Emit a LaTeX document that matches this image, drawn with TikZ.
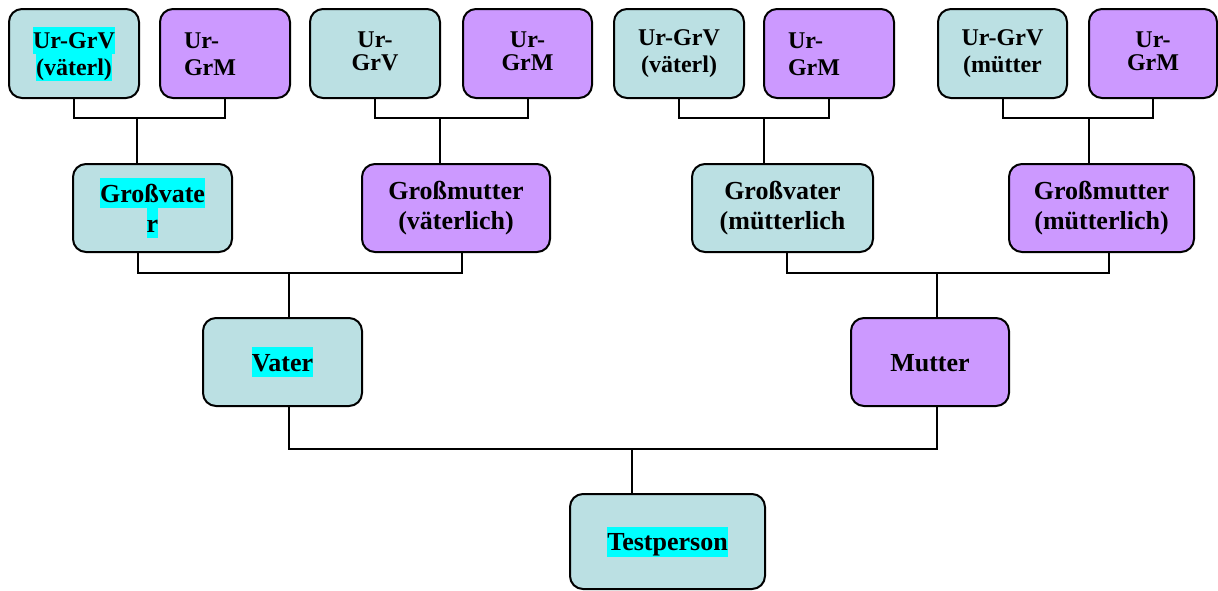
\documentclass[tikz,border=0pt]{standalone}
\usepackage{fontspec}
\setmainfont{Liberation Serif}
\usepackage{tikz}
\usetikzlibrary{positioning}
\usetikzlibrary{calc}
\definecolor{male-fill}{HTML}{BBE0E3}
\definecolor{female-fill}{HTML}{CC99FF}
\definecolor{mark-cyan}{HTML}{00FFFF}
\newcommand{\personstrut}{\rule[-0.2\baselineskip]{0pt}{\baselineskip}}
\newcommand{\marked}[1]{{\setlength{\fboxsep}{0pt}\colorbox{mark-cyan}{\personstrut#1}}}
\tikzset{
  person/.style={draw=black, line width=2pt, rounded corners=13pt, anchor=north west,
    inner sep=0pt, align=center, minimum height=88pt,
    font=\bfseries\fontsize{26}{30}\selectfont,
    execute at begin node=\personstrut, execute at end node=\personstrut},
  male/.style={person, fill=male-fill},
  female/.style={person, fill=female-fill},
  elder/.style={minimum width=130pt, minimum height=89pt, font=\bfseries\fontsize{24}{27}\selectfont},
  tight/.style={font=\bfseries\fontsize{24}{23.5}\selectfont},
  leftname/.style={align=left, text width=82pt, inner xsep=24pt},
  link/.style={line width=2pt},
}
\begin{document}
\begin{tikzpicture}[x=1pt, y=-1pt]
\useasboundingbox (0,0) rectangle (1218,590);
% great-grandparents
\node[male, elder] (urv1) at (8,8) {\marked{Ur-GrV}\\\marked{(väterl)}};
\node[female, elder, leftname] (urm1) at (159,8) {Ur-\\GrM};
\node[male, elder, tight] (urv2) at (309,8) {Ur-\\GrV};
\node[female, elder, tight, minimum width=129pt] (urm2) at (462,8) {Ur-\\GrM};
\node[male, elder] (urv3) at (613,8) {Ur-GrV\\(väterl)};
\node[female, elder, leftname] (urm3) at (763,8) {Ur-\\GrM};
\node[male, elder, minimum width=129pt] (urv4) at (937,8) {Ur-GrV\\(mütter};
\node[female, elder, tight, minimum width=128pt] (urm4) at (1088,8) {Ur-\\GrM};
% grandparents
\node[male, minimum width=159pt] (grv1) at (72,163) {\marked{Großvate}\\\marked{r}};
\node[female, minimum width=188pt] (grm1) at (361,163) {Großmutter\\(väterlich)};
\node[male, minimum width=181pt] (grv2) at (691,163) {Großvater\\(mütterlich};
\node[female, minimum width=185pt] (grm2) at (1008,163) {Großmutter\\(mütterlich)};
% parents
\node[male, minimum width=159pt] (vater) at (202,317) {\marked{Vater}};
\node[female, minimum width=158pt] (mutter) at (850,317) {Mutter};
\node[male, minimum width=195pt, minimum height=95pt] (testperson) at (569,493) {\marked{Testperson}};
% junctions
\coordinate (j1) at (137,118);
\coordinate (j2) at (440,118);
\coordinate (j3) at (764,118);
\coordinate (j4) at (1089,118);
\coordinate (d1) at (138,273);
\coordinate (d2) at (462,273);
\coordinate (d3) at (787,273);
\coordinate (d4) at (1109,273);
\coordinate (k1) at (289,273);
\coordinate (k2) at (937,273);
\coordinate (l1) at (632,449);
% great-grandparents to grandparents
\draw[link] (urv1.south) |- (j1) -| (urm1.south);
\draw[link] (j1) -- (j1 |- grv1.north);
\draw[link] (urv2.south) |- (j2) -| (urm2.south);
\draw[link] (j2) -- (j2 |- grm1.north);
\draw[link] (urv3.south) |- (j3) -| (urm3.south);
\draw[link] (j3) -- (j3 |- grv2.north);
\draw[link] (urv4.south) |- (j4) -| (urm4.south);
\draw[link] (j4) -- (j4 |- grm2.north);
% grandparents to parents
\draw[link] (grv1.south -| d1) -- (d1) -- (d2) -- (grm1.south -| d2);
\draw[link] (k1) -- (k1 |- vater.north);
\draw[link] (grv2.south -| d3) -- (d3) -- (d4) -- (grm2.south -| d4);
\draw[link] (k2) -- (k2 |- mutter.north);
% parents to test person
\draw[link] (vater.south -| k1) |- (l1) -| (mutter.south -| k2);
\draw[link] (l1) -- (l1 |- testperson.north);
\end{tikzpicture}
\end{document}
